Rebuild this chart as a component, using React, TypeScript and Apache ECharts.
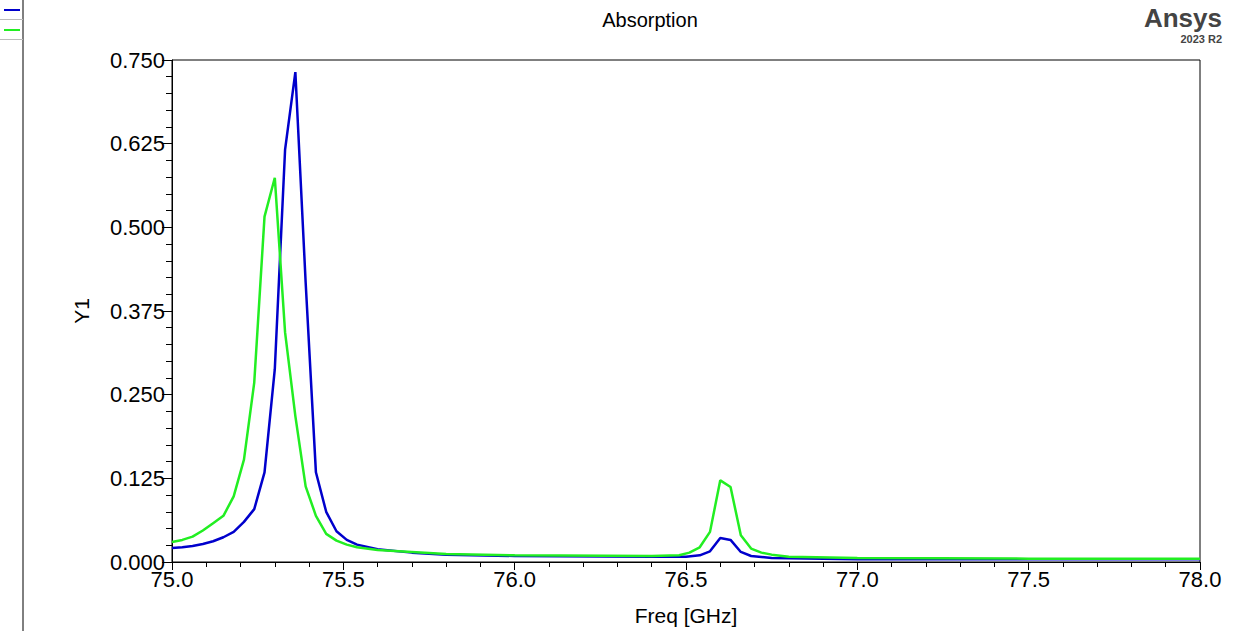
import React, { useEffect, useRef } from "react";
import * as echarts from "echarts";

const blueFreq = [75.0, 75.03, 75.06, 75.09, 75.12, 75.15, 75.18, 75.21, 75.24, 75.27, 75.3, 75.33, 75.36, 75.39, 75.42, 75.45, 75.48, 75.51, 75.54, 75.6, 75.7, 75.8, 76.0, 76.4, 76.5, 76.54, 76.57, 76.6, 76.63, 76.66, 76.69, 76.75, 77.0, 77.5, 78.0];
const blueVals = [0.021, 0.022, 0.024, 0.027, 0.031, 0.037, 0.045, 0.06, 0.079, 0.134, 0.288, 0.616, 0.732, 0.418, 0.134, 0.075, 0.046, 0.033, 0.026, 0.019, 0.014, 0.011, 0.009, 0.008, 0.008, 0.01, 0.016, 0.036, 0.033, 0.015, 0.009, 0.006, 0.004, 0.004, 0.004];
const greenFreq = [75.0, 75.03, 75.06, 75.09, 75.12, 75.15, 75.18, 75.21, 75.24, 75.27, 75.3, 75.33, 75.36, 75.39, 75.42, 75.45, 75.48, 75.51, 75.54, 75.6, 75.7, 75.8, 76.0, 76.4, 76.48, 76.51, 76.54, 76.57, 76.6, 76.63, 76.66, 76.69, 76.72, 76.75, 76.8, 77.0, 77.5, 78.0];
const greenVals = [0.03, 0.033, 0.038, 0.047, 0.058, 0.069, 0.098, 0.153, 0.268, 0.516, 0.574, 0.343, 0.218, 0.113, 0.069, 0.042, 0.032, 0.026, 0.022, 0.018, 0.015, 0.012, 0.01, 0.009, 0.01, 0.014, 0.022, 0.045, 0.122, 0.112, 0.04, 0.02, 0.014, 0.011, 0.008, 0.006, 0.005, 0.005];

const FONT = "Liberation Sans, Arial, sans-serif";

export default function App() {
  const ref = useRef<HTMLDivElement>(null);
  useEffect(() => {
    const chart = echarts.init(ref.current!, null, { renderer: "svg" });
    chart.setOption({
      animation: false,
      backgroundColor: "#fff",
      textStyle: { fontFamily: FONT },
      title: {
        text: "Absorption", left: 645, top: 5, textAlign: "center",
        textStyle: { fontSize: 20, fontWeight: "normal", color: "#000", fontFamily: FONT },
      },
      grid: { left: 172, right: 33, top: 60, bottom: 68, show: true, borderColor: "#000", borderWidth: 1 },
      xAxis: {
        type: "value", min: 75, max: 78, interval: 0.5,
        name: "Freq [GHz]", nameLocation: "middle", nameGap: 43,
        nameTextStyle: { fontSize: 21, color: "#000", fontFamily: FONT },
        axisLine: { lineStyle: { color: "#000" } },
        axisTick: { show: true, inside: false, length: 8, lineStyle: { color: "#000" } },
        minorTick: { show: true, splitNumber: 5, length: 5, lineStyle: { color: "#000" } },
        splitLine: { show: false },
        axisLabel: { fontSize: 22, color: "#000", formatter: (v: number) => v.toFixed(1), margin: 6 },
      },
      yAxis: {
        type: "value", min: 0, max: 0.75, interval: 0.125,
        name: "Y1", nameLocation: "middle", nameGap: 80,
        nameTextStyle: { fontSize: 21, color: "#000", fontFamily: FONT },
        axisLine: { show: true, lineStyle: { color: "#000" } },
        axisTick: { show: true, inside: false, length: 10, lineStyle: { color: "#000" } },
        minorTick: { show: true, splitNumber: 5, length: 6, lineStyle: { color: "#000" } },
        splitLine: { show: false },
        axisLabel: { fontSize: 22, color: "#000", formatter: (v: number) => v.toFixed(3), margin: 7 },
      },
      graphic: [
        { type: "line", shape: { x1: 23, y1: 0, x2: 23, y2: 631 }, style: { stroke: "#000", lineWidth: 1 } },
        { type: "line", shape: { x1: 0, y1: 19.5, x2: 23, y2: 19.5 }, style: { stroke: "#bbb", lineWidth: 1 } },
        { type: "line", shape: { x1: 0, y1: 39.5, x2: 23, y2: 39.5 }, style: { stroke: "#bbb", lineWidth: 1 } },
        { type: "line", shape: { x1: 4, y1: 10, x2: 20, y2: 10 }, style: { stroke: "#0000cc", lineWidth: 2 } },
        { type: "line", shape: { x1: 4, y1: 30, x2: 20, y2: 30 }, style: { stroke: "#22ee22", lineWidth: 2 } },
        { type: "text", x: 1222, y: 5, style: { text: "Ansys", fill: "#444", font: `bold 26px ${FONT}`, textAlign: "right" } },
        { type: "text", x: 1222, y: 33, style: { text: "2023 R2", fill: "#444", font: `bold 11px ${FONT}`, textAlign: "right" } },
      ],
      series: [
        { type: "line", data: blueFreq.map((f, i) => [f, blueVals[i]]), showSymbol: false, lineStyle: { color: "#0000cc", width: 2.5 }, itemStyle: { color: "#0000cc" } },
        { type: "line", data: greenFreq.map((f, i) => [f, greenVals[i]]), showSymbol: false, lineStyle: { color: "#22ee22", width: 2.5 }, itemStyle: { color: "#22ee22" } },
      ],
    });
    return () => chart.dispose();
  }, []);
  return <div ref={ref} style={{ position: "absolute", left: 0, top: 0, width: 1233, height: 631 }} />;
}
